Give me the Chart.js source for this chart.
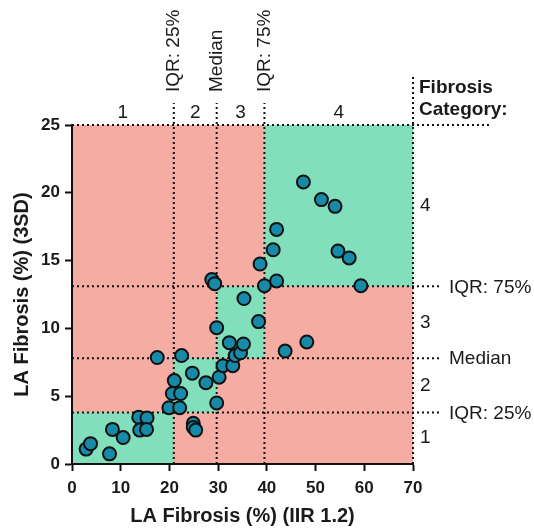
<!DOCTYPE html>
<html>
<head>
<meta charset="utf-8">
<script src="https://cdn.jsdelivr.net/npm/chart.js@4.4.1/dist/chart.umd.min.js"></script>
<style>
  html, body { margin: 0; padding: 0; background: #fff; }
  #wrap { width: 534px; height: 529px; position: relative; }
</style>
</head>
<body>
<div id="wrap"><canvas id="fibrosisChart"></canvas></div>
<script>
// measured values (x = IIR 1.2, y = 3SD)
var xValues = [2.9, 3.8, 7.7, 8.3, 10.5, 13.7, 15.4, 13.9, 15.3, 17.5,
  19.9, 22.1, 20.6, 22.3, 21.0, 22.5, 24.9, 24.9, 25.4, 24.7,
  27.5, 29.7, 30.2, 31.0, 33.0, 33.5, 34.6, 32.3, 35.2, 29.7,
  38.3, 35.3, 28.7, 29.3, 38.6, 39.5, 42.0, 41.3, 42.0, 47.5,
  51.2, 54.0, 54.6, 56.9, 59.3, 43.75, 48.2];
var yValues = [1.1, 1.5, 0.75, 2.55, 1.95, 3.45, 3.4, 2.5, 2.55, 7.85,
  4.15, 4.15, 5.2, 5.2, 6.15, 8.0, 3.0, 2.7, 2.5, 6.7,
  6.0, 4.5, 6.4, 7.25, 7.25, 8.0, 8.2, 8.95, 8.85, 10.05,
  10.5, 12.2, 13.6, 13.3, 14.75, 13.15, 13.5, 15.8, 17.3, 20.8,
  19.5, 19.0, 15.7, 15.2, 13.15, 8.33, 9.0];

// quartile cut-offs for each axis
var xCuts = [20.9, 29.7, 39.5];
var yCuts = [3.8, 7.8, 13.1];
var cutLabels = ["IQR: 25%", "Median", "IQR: 75%"];
var categories = ["1", "2", "3", "4"];

var pink = "#f4aca3";
var green = "#82dfbc";
var ink = "#1a1a1a";

var points = xValues.map(function (v, i) { return { x: v, y: yValues[i] }; });

function dotted(ctx, x1, y1, x2, y2) {
  ctx.save();
  ctx.strokeStyle = "#111";
  ctx.lineWidth = 2;
  ctx.setLineDash([2, 3]);
  ctx.beginPath();
  ctx.moveTo(x1, y1);
  ctx.lineTo(x2, y2);
  ctx.stroke();
  ctx.restore();
}

// background blocks, dotted cut lines and all the side labels
var quadrantPlugin = {
  id: "quadrants",
  beforeDraw: function (chart) {
    var ctx = chart.ctx, a = chart.chartArea;
    var xs = chart.scales.x, ys = chart.scales.y;
    ctx.save();
    ctx.fillStyle = pink;
    ctx.fillRect(a.left, a.top, a.right - a.left, a.bottom - a.top);
    // diagonal green cells
    var xb = [0].concat(xCuts, [70]);
    var yb = [0].concat(yCuts, [25]);
    ctx.fillStyle = green;
    for (var i = 0; i < 4; i++) {
      var l = xs.getPixelForValue(xb[i]), r = xs.getPixelForValue(xb[i + 1]);
      var b = ys.getPixelForValue(yb[i]), t = ys.getPixelForValue(yb[i + 1]);
      ctx.fillRect(l, t, r - l, b - t);
    }
    ctx.restore();

    // vertical cut lines running up above the plot
    xCuts.forEach(function (c) {
      var px = xs.getPixelForValue(c);
      dotted(ctx, px, a.bottom, px, a.top - 22);
    });
    // horizontal cut lines running out to the right
    yCuts.forEach(function (c) {
      var py = ys.getPixelForValue(c);
      dotted(ctx, a.left, py, a.right + 29, py);
    });
    // top and right frame
    dotted(ctx, a.left, a.top, 492, a.top);
    dotted(ctx, a.right, a.bottom, a.right, 76);
  },
  afterDraw: function (chart) {
    var ctx = chart.ctx, a = chart.chartArea;
    var xs = chart.scales.x, ys = chart.scales.y;
    var xb = [0].concat(xCuts, [70]);
    var yb = [0].concat(yCuts, [25]);
    ctx.save();
    ctx.fillStyle = ink;
    ctx.font = "19px 'Liberation Sans', Arial, sans-serif";

    // category numbers along the top
    ctx.textAlign = "center";
    ctx.textBaseline = "middle";
    for (var i = 0; i < 4; i++) {
      var cx = (xs.getPixelForValue(xb[i]) + xs.getPixelForValue(xb[i + 1])) / 2;
      ctx.fillText(categories[i], cx, a.top - 12);
    }
    // category numbers down the right side
    ctx.textAlign = "left";
    for (var j = 0; j < 4; j++) {
      var cy = (ys.getPixelForValue(yb[j]) + ys.getPixelForValue(yb[j + 1])) / 2;
      ctx.fillText(categories[j], a.right + 7, cy);
    }
    // cut labels on the right
    yCuts.forEach(function (c, k) {
      ctx.fillText(cutLabels[k], a.right + 36, ys.getPixelForValue(c) + 1);
    });
    // rotated cut labels on top
    xCuts.forEach(function (c, k) {
      ctx.save();
      ctx.translate(xs.getPixelForValue(c), a.top - 33);
      ctx.rotate(-Math.PI / 2);
      ctx.textAlign = "left";
      ctx.textBaseline = "middle";
      ctx.fillText(cutLabels[k], 0, 0);
      ctx.restore();
    });

    // legend-ish heading
    ctx.font = "bold 19px 'Liberation Sans', Arial, sans-serif";
    ctx.textAlign = "left";
    ctx.fillText("Fibrosis", a.right + 6, 88);
    ctx.fillText("Category:", a.right + 6, 110);

    // axis titles
    ctx.font = "bold 20px 'Liberation Sans', Arial, sans-serif";
    ctx.textAlign = "center";
    ctx.fillText("LA Fibrosis (%) (IIR 1.2)", (a.left + a.right) / 2, 516);
    ctx.save();
    ctx.translate(22, (a.top + a.bottom) / 2);
    ctx.rotate(-Math.PI / 2);
    ctx.fillText("LA Fibrosis (%) (3SD)", 0, 0);
    ctx.restore();
    ctx.restore();
  }
};

var ctx = document.getElementById("fibrosisChart").getContext("2d");
var fibrosisChart = new Chart(ctx, {
  type: "scatter",
  data: {
    datasets: [{
      data: points,
      backgroundColor: "#178aa8",
      borderColor: "#111",
      borderWidth: 2,
      pointRadius: 6.5,
      pointHoverRadius: 6.5,
      clip: false
    }]
  },
  options: {
    responsive: true,
    maintainAspectRatio: false,
    animation: false,
    layout: { padding: { top: 125, right: 121, left: 0, bottom: 0 } },
    plugins: { legend: { display: false }, tooltip: { enabled: false } },
    scales: {
      x: {
        type: "linear",
        min: 0,
        max: 70,
        afterFit: function (s) { s.height = 65; },
        ticks: {
          stepSize: 10,
          color: ink,
          padding: 7,
          font: { family: "'Liberation Sans', Arial, sans-serif", size: 17, weight: "bold" }
        },
        grid: { drawOnChartArea: false, drawTicks: true, tickLength: 7, tickWidth: 2, tickColor: "#111" },
        border: { display: true, color: "#111", width: 2 }
      },
      y: {
        type: "linear",
        min: 0,
        max: 25,
        afterFit: function (s) { s.width = 72; },
        ticks: {
          stepSize: 5,
          color: ink,
          padding: 5,
          font: { family: "'Liberation Sans', Arial, sans-serif", size: 17, weight: "bold" }
        },
        grid: { drawOnChartArea: false, drawTicks: true, tickLength: 7, tickWidth: 2, tickColor: "#111" },
        border: { display: true, color: "#111", width: 2 }
      }
    }
  },
  plugins: [quadrantPlugin]
});
</script>
</body>
</html>
